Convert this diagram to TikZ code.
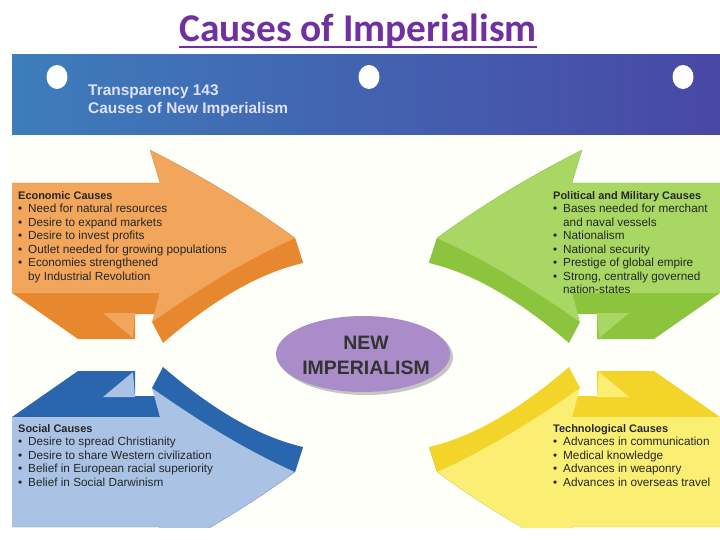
\documentclass[tikz,border=0pt]{standalone}
\usepackage{fontspec}
\setmainfont{Liberation Sans}
\newfontfamily\titlefont{Carlito}
\usetikzlibrary{shapes.geometric, shadows}

\definecolor{titlecol}{HTML}{7030A0}
\definecolor{bandleft}{HTML}{3D7DBB}
\definecolor{bandright}{HTML}{4848A4}
\definecolor{ecolite}{HTML}{F1A65C}
\definecolor{ecodark}{HTML}{E8882E}
\definecolor{pollite}{HTML}{A8D763}
\definecolor{poldark}{HTML}{8CC43E}
\definecolor{soclite}{HTML}{AAC3E4}
\definecolor{socdark}{HTML}{2A66AE}
\definecolor{teclite}{HTML}{FAEF72}
\definecolor{tecdark}{HTML}{F3D52A}
\definecolor{impcol}{HTML}{AA8CC8}

\newcommand{\bul}{\makebox[10bp][l]{\textbullet}}
\newcommand{\ind}{\hspace*{10bp}}
\newcommand{\causehead}{\fontsize{11}{13.5}\selectfont\bfseries}

\begin{document}
\begin{tikzpicture}[x=1bp,y=-1bp,
  causetext/.style={anchor=north west, inner sep=0pt, align=left,
    font=\fontsize{11.8}{13.6}\selectfont, text=black!85},
  core/.style={ellipse, fill=impcol, inner sep=0pt, minimum width=174bp,
    minimum height=76bp,
    drop shadow={opacity=0.45, shadow xshift=3bp, shadow yshift=-3bp}}]
\useasboundingbox (0,0) rectangle (720,540);

% title
\node[anchor=base, inner sep=0pt, text=titlecol, font=\titlefont\fontsize{39.5}{48}\selectfont\bfseries]
  (title) at (358,42) {Causes of Imperialism};
\draw[titlecol, line width=2.4bp] ([yshift=-5bp]title.base west) -- ([yshift=-5bp]title.base east);

\begin{scope}
\clip (12,55) rectangle (720,527);
\fill[white!98!yellow] (12,55) rectangle (720,527);
% banner
\shade[left color=bandleft, right color=bandright] (12,55) rectangle (720,135);
\foreach \x in {57,369,683}
  \fill[white] (\x,77) ellipse [x radius=10.5bp, y radius=12bp];
\node[anchor=north west, inner sep=0pt, align=left, text=white!88!blue,
  font=\fontsize{15.5}{18}\selectfont\bfseries] (banner) at (88,85)
  {Transparency 143\\Causes of New Imperialism};

% the four arrows, one shape mirrored round the centre
\foreach \sx/\sy/\lite/\dark in {1/1/ecolite/ecodark, -1/1/pollite/poldark,
    1/-1/soclite/socdark, -1/-1/teclite/tecdark}{
\begin{scope}[shift={(366,355)}, xscale=\sx, yscale=\sy, shift={(-366,-355)}]
  \fill[\dark] (12,293) -- (160,293) -- (155,314) -- (135,314) -- (135,339)
    -- (78,339) -- cycle;
  \fill[\lite] (103,313) -- (135,313) -- (133,338) -- cycle;
  \fill[\lite] (12,183) -- (160,183) -- (150,150)
    .. controls (200,175) and (250,205) .. (295,238)
    .. controls (250,258) and (203,286) .. (152,322) -- (160,293)
    -- (12,293) -- cycle;
  \fill[\dark] (152,322) .. controls (203,286) and (250,258) .. (295,238)
    -- (303,263) .. controls (260,273) and (214,299) .. (163,343) -- cycle;
  \draw[\dark!70!black, line width=0.3bp, opacity=0.5] (12,183) -- (160,183) -- (150,150)
    .. controls (200,175) and (250,205) .. (295,238) -- (303,263);
\end{scope}
}

% texts
\node[causetext] (eco) at (18,191) {{\causehead Economic Causes}\\
  \bul Need for natural resources\\
  \bul Desire to expand markets\\
  \bul Desire to invest profits\\
  \bul Outlet needed for growing populations\\
  \bul Economies strengthened\\
  \ind by Industrial Revolution};
\node[causetext] (pol) at (553,191) {{\causehead Political and Military Causes}\\
  \bul Bases needed for merchant\\
  \ind and naval vessels\\
  \bul Nationalism\\
  \bul National security\\
  \bul Prestige of global empire\\
  \bul Strong, centrally governed\\
  \ind nation-states};
\node[causetext] (soc) at (18,424) {{\causehead Social Causes}\\
  \bul Desire to spread Christianity\\
  \bul Desire to share Western civilization\\
  \bul Belief in European racial superiority\\
  \bul Belief in Social Darwinism};
\node[causetext] (tec) at (553,424) {{\causehead Technological Causes}\\
  \bul Advances in communication\\
  \bul Medical knowledge\\
  \bul Advances in weaponry\\
  \bul Advances in overseas travel};

% centre
\node[core] (core) at (363,354) {};
\node[align=center, inner sep=0pt, text=black!80, font=\fontsize{19.5}{25}\selectfont\bfseries]
  (corelabel) at (366,355) {NEW\\IMPERIALISM};
\end{scope}
\end{tikzpicture}
\end{document}
